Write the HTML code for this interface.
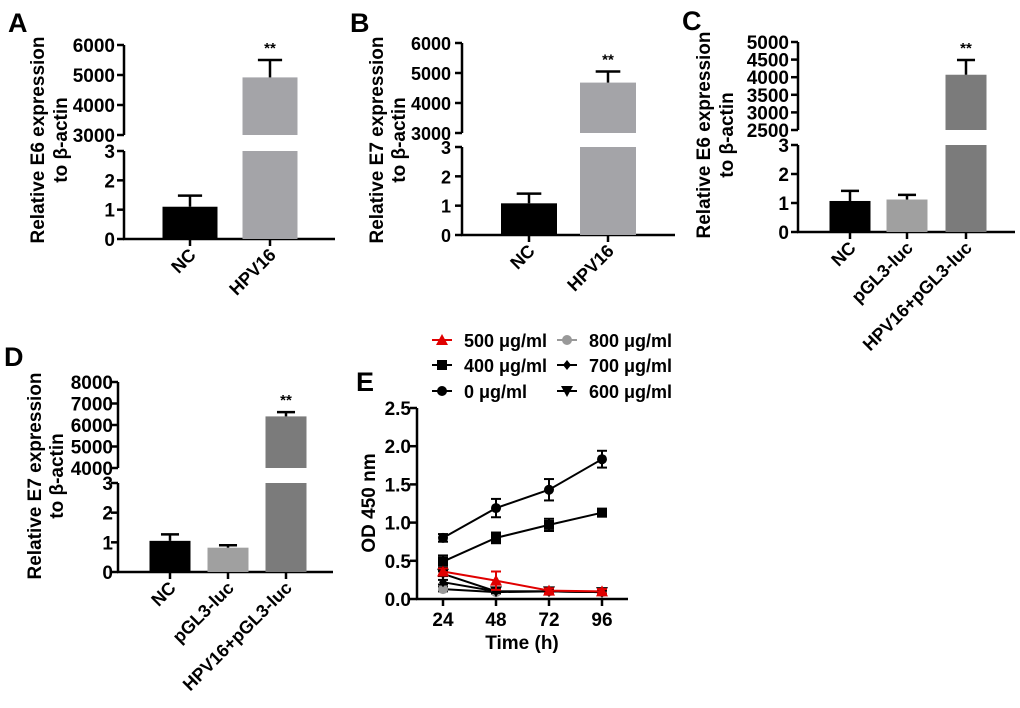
<!DOCTYPE html>
<html><head><meta charset="utf-8"><style>
html,body{margin:0;padding:0;background:#fff;}
svg{display:block;font-family:"Liberation Sans",Arial,sans-serif;}
text{font-weight:bold;fill:#000;}
</style></head><body>
<svg id="fig" width="1020" height="708" viewBox="0 0 1020 708"></svg>
<script>
// ---- data: panel A ----
const catsA = ["NC", "HPV16"];
const valsA = [1.1, 4920];
const errsA = [1.48, 5500];
const ticksUpA = [3000, 4000, 5000, 6000];
// ---- data: panel B ----
const catsB = ["NC", "HPV16"];
const valsB = [1.08, 4680];
const errsB = [1.41, 5050];
const ticksUpB = [3000, 4000, 5000, 6000];
// ---- data: panel C ----
const catsC = ["NC", "pGL3-luc", "HPV16+pGL3-luc"];
const valsC = [1.07, 1.12, 4070];
const errsC = [1.42, 1.28, 4490];
const ticksUpC = [2500, 3000, 3500, 4000, 4500, 5000];
// ---- data: panel D ----
const catsD = ["NC", "pGL3-luc", "HPV16+pGL3-luc"];
const valsD = [1.05, 0.82, 6400];
const errsD = [1.27, 0.90, 6600];
const ticksUpD = [4000, 5000, 6000, 7000, 8000];
const ticksLow = [0, 1, 2, 3];
// ---- data: panel E ----
const timesE = [24, 48, 72, 96];
const yTicksE = [0.0, 0.5, 1.0, 1.5, 2.0, 2.5];
const s0 = [0.80, 1.19, 1.43, 1.83];   const e0 = [0.05, 0.12, 0.14, 0.11];
const s400 = [0.49, 0.80, 0.97, 1.13]; const e400 = [0.08, 0.07, 0.08, 0.05];
const s500 = [0.36, 0.24, 0.11, 0.10]; const e500 = [0.04, 0.12, 0.03, 0.03];
const s600 = [0.33, 0.10, 0.10, 0.09]; const e600 = [0.03, 0.02, 0.02, 0.02];
const s700 = [0.22, 0.10, 0.10, 0.09]; const e700 = [0.03, 0.02, 0.02, 0.02];
const s800 = [0.13, 0.09, 0.10, 0.09]; const e800 = [0.03, 0.02, 0.02, 0.02];

const NS = "http://www.w3.org/2000/svg";
const svg = document.getElementById('fig');
function mk(tag, attrs, parent, txt) {
  const e = document.createElementNS(NS, tag);
  for (const k in attrs) e.setAttribute(k, attrs[k]);
  if (txt !== undefined) e.textContent = txt;
  (parent || svg).appendChild(e);
  return e;
}

function barPanel(id, letter, lx, ly, cats, vals, errs, upTicks, g, colors, title, tx1, tx2, ty) {
  const grp = mk('g', {});
  
  
  const L = mk('text', {x: lx, y: ly, 'font-size': 27}, grp, letter);
  
  
  const upLo = upTicks[0], upHi = upTicks[upTicks.length - 1];
  const yLow = v => g.y0 + (g.y3 - g.y0) * Math.min(v, 3) / 3;
  const yUp = v => g.u0 + (g.u1 - g.u0) * (Math.min(v, upHi) - upLo) / (upHi - upLo);
  const yAny = v => v > 3 ? yUp(v) : yLow(v);
  const off = g.off || 9;
  const fs = g.fs || 19;
  const ax = mk('g', {stroke: '#000', 'stroke-width': 2.5, fill: 'none'}, grp);
  
  
  mk('line', {x1: g.ax, y1: g.y0, x2: g.ax, y2: g.y3}, ax);
  mk('line', {x1: g.ax, y1: g.u0, x2: g.ax, y2: g.u1}, ax);
  mk('line', {x1: g.ax - 1, y1: g.y0, x2: g.xEnd, y2: g.y0}, ax);
  ticksLow.forEach(t => {
    mk('line', {x1: g.ax - 7, y1: yLow(t), x2: g.ax, y2: yLow(t)}, ax);
    const tl = mk('text', {x: g.ax - off, y: yLow(t) + 7, 'font-size': fs, 'text-anchor': 'end'}, grp, t);
    
    
  });
  upTicks.forEach(t => {
    mk('line', {x1: g.ax - 7, y1: yUp(t), x2: g.ax, y2: yUp(t)}, ax);
    const tl = mk('text', {x: g.ax - off, y: yUp(t) + 7, 'font-size': fs, 'text-anchor': 'end'}, grp, t);
    
    
  });
  cats.forEach((c, i) => {
    const cx = g.centers[i], w = g.w, v = vals[i];
    const b = mk('g', {}, grp);
    
    
    mk('rect', {x: cx - w / 2, y: yLow(v), width: w, height: g.y0 - yLow(v), fill: colors[i]}, b);
    if (v > 3) mk('rect', {x: cx - w / 2, y: yUp(v), width: w, height: g.u0 - yUp(v), fill: colors[i]}, b);
    const yt = yAny(v), ye = yAny(errs[i]);
    mk('line', {x1: cx, y1: yt, x2: cx, y2: ye, stroke: '#000', 'stroke-width': 2.5}, b);
    mk('line', {x1: cx - w * 0.22, y1: ye, x2: cx + w * 0.22, y2: ye, stroke: '#000', 'stroke-width': 2.5}, b);
    if (v > 3) {
      const st = mk('text', {x: cx, y: ye - 7, 'font-size': 15, 'text-anchor': 'middle', 'font-weight': 'normal'}, b, '**');
      
      
    }
    mk('line', {x1: cx, y1: g.y0, x2: cx, y2: g.y0 + 7, stroke: '#000', 'stroke-width': 2.5}, grp);
    const cl = mk('text', {x: 0, y: 0, 'font-size': 18, 'text-anchor': 'end',
      transform: `translate(${cx + 7},${g.y0 + 17}) rotate(-45)`}, grp, c);
    
    
  });
  const t1 = mk('text', {x: 0, y: 0, 'font-size': 19, 'text-anchor': 'middle', transform: `translate(${tx1},${ty}) rotate(-90)`}, grp, title);
  
  
  const t2 = mk('text', {x: 0, y: 0, 'font-size': 19, 'text-anchor': 'middle', transform: `translate(${tx2},${ty}) rotate(-90)`}, grp, 'to β-actin');
  
  
}

barPanel('a', 'A', 8, 32, catsA, valsA, errsA, ticksUpA,
  {ax: 124, xEnd: 335, y0: 239, y3: 151, u0: 135, u1: 45, centers: [190, 270], w: 55},
  ['#000', '#a4a4a8'], 'Relative E6 expression', 44, 67, 140);
barPanel('b', 'B', 350, 32, catsB, valsB, errsB, ticksUpB,
  {ax: 462, xEnd: 675, y0: 235, y3: 147, u0: 133, u1: 43, centers: [529, 608], w: 56, off: 11, fs: 18},
  ['#000', '#a4a4a8'], 'Relative E7 expression', 383, 405, 140);
barPanel('c', 'C', 682, 30, catsC, valsC, errsC, ticksUpC,
  {ax: 798, xEnd: 1015, y0: 232, y3: 145, u0: 130, u1: 42, centers: [850, 907, 966], w: 41},
  ['#000', '#a0a0a0', '#7b7b7b'], 'Relative E6 expression', 710, 733, 135);
barPanel('d', 'D', 4, 366, catsD, valsD, errsD, ticksUpD,
  {ax: 118, xEnd: 333, y0: 572, y3: 483, u0: 468, u1: 382, centers: [170, 228, 286], w: 41, off: 5},
  ['#000', '#a0a0a0', '#7b7b7b'], 'Relative E7 expression', 41, 63, 476);

// ---- panel E line chart ----
(function () {
  const grp = mk('g', {});
  
  
  const L = mk('text', {x: 356, y: 391, 'font-size': 27}, grp, 'E');
  
  
  const X = t => 443 + (t - 24) * (602 - 443) / 72;
  const Y = v => 599 - v * (599 - 408) / 2.5;
  const ax = mk('g', {stroke: '#000', 'stroke-width': 2.5}, grp);
  
  
  mk('line', {x1: 417, y1: 408, x2: 417, y2: 600}, ax);
  mk('line', {x1: 416, y1: 599, x2: 628, y2: 599}, ax);
  yTicksE.forEach(t => {
    mk('line', {x1: 410, y1: Y(t), x2: 417, y2: Y(t)}, ax);
    const tl = mk('text', {x: 411, y: Y(t) + 7, 'font-size': 19, 'text-anchor': 'end'}, grp, t.toFixed(1));
    
    
  });
  timesE.forEach(t => {
    mk('line', {x1: X(t), y1: 599, x2: X(t), y2: 606}, ax);
    const tl = mk('text', {x: X(t), y: 626, 'font-size': 19, 'text-anchor': 'middle'}, grp, t);
    
    
  });
  const xt = mk('text', {x: 522, y: 649, 'font-size': 19, 'text-anchor': 'middle'}, grp, 'Time (h)');
  
  
  const yt = mk('text', {x: 0, y: 0, 'font-size': 19, 'text-anchor': 'middle', transform: 'translate(375,503) rotate(-90)'}, grp, 'OD 450 nm');
  
  

  function marker(p, kind, x, y, col) {
    if (kind === 'square') mk('rect', {x: x - 5, y: y - 5, width: 10, height: 10, fill: col}, p);
    else if (kind === 'circle') mk('circle', {cx: x, cy: y, r: 5, fill: col}, p);
    else if (kind === 'tri') mk('polygon', {points: `${x},${y - 6} ${x - 6},${y + 5} ${x + 6},${y + 5}`, fill: col}, p);
    else if (kind === 'tridown') mk('polygon', {points: `${x},${y + 6} ${x - 6},${y - 5} ${x + 6},${y - 5}`, fill: col}, p);
    else if (kind === 'diamond') mk('polygon', {points: `${x},${y - 5} ${x - 4},${y} ${x},${y + 5} ${x + 4},${y}`, fill: col}, p);
  }
  const series = [
    ['800', s800, e800, 'circle', '#999', '#000'],
    ['700', s700, e700, 'diamond', '#000', '#000'],
    ['600', s600, e600, 'tridown', '#000', '#000'],
    ['400', s400, e400, 'square', '#000', '#000'],
    ['0', s0, e0, 'circle', '#000', '#000'],
    ['500', s500, e500, 'tri', '#e00000', '#e00000']
  ];
  series.forEach(([nm, vals, errs, kind, mcol, lcol]) => {
    const sg = mk('g', {}, grp);
    
    
    const pts = vals.map((v, i) => X(timesE[i]) + ',' + Y(v)).join(' ');
    mk('polyline', {points: pts, fill: 'none', stroke: lcol, 'stroke-width': 2}, sg);
    vals.forEach((v, i) => {
      const x = X(timesE[i]);
      mk('line', {x1: x, y1: Y(v - errs[i]), x2: x, y2: Y(v + errs[i]), stroke: lcol, 'stroke-width': 2}, sg);
      mk('line', {x1: x - 5, y1: Y(v + errs[i]), x2: x + 5, y2: Y(v + errs[i]), stroke: lcol, 'stroke-width': 2}, sg);
      mk('line', {x1: x - 5, y1: Y(v - errs[i]), x2: x + 5, y2: Y(v - errs[i]), stroke: lcol, 'stroke-width': 2}, sg);
      marker(sg, kind, x, Y(v), mcol);
    });
  });
  const legend = [
    ['500 μg/ml', 'tri', '#e00000', 432, 340], ['800 μg/ml', 'circle', '#999', 557, 340],
    ['400 μg/ml', 'square', '#000', 432, 365], ['700 μg/ml', 'diamond', '#000', 557, 365],
    ['0 μg/ml', 'circle', '#000', 432, 391], ['600 μg/ml', 'tridown', '#000', 557, 391]
  ];
  legend.forEach(([lab, kind, col, x, y]) => {
    const lg = mk('g', {}, grp);
    
    
    mk('line', {x1: x, y1: y, x2: x + 20, y2: y, stroke: col, 'stroke-width': 2}, lg);
    marker(lg, kind, x + 10, y, col);
    mk('text', {x: x + 32, y: y + 7, 'font-size': 18}, lg, lab);
  });
})();
</script>
</body></html>
